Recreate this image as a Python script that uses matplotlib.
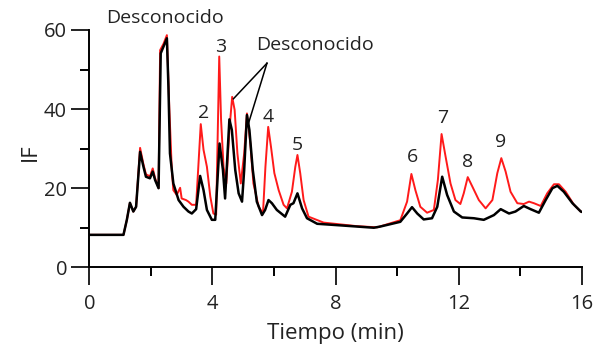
import matplotlib
matplotlib.use("Agg")
import matplotlib.pyplot as plt
from matplotlib.ticker import MultipleLocator

plt.rcParams['font.family'] = ['Open Sans', 'DejaVu Sans']

# Black trace
t_black = [0, 1.11, 1.22, 1.32, 1.43, 1.52, 1.65, 1.76, 1.84, 1.97, 2.06, 2.14, 2.25,
           2.32, 2.41, 2.52, 2.57, 2.62, 2.73, 2.9, 3.06, 3.22, 3.33, 3.47, 3.6, 3.71, 3.82,
           3.98, 4.09, 4.23, 4.34, 4.41, 4.55, 4.63, 4.74, 4.85, 4.96, 5.03, 5.12, 5.2, 5.31,
           5.44, 5.61, 5.71, 5.82, 5.93, 6.09, 6.36, 6.53, 6.63, 6.76, 6.91, 7.07, 7.4, 8.15,
           9.24, 9.45, 10.1, 10.32, 10.48, 10.65, 10.86, 11.13, 11.3, 11.46, 11.62, 11.84,
           12.11, 12.49, 12.81, 13.14, 13.36, 13.63, 13.84, 14.11, 14.33, 14.6, 14.82, 15.04,
           15.2, 15.41, 15.69, 15.96, 16.0]
v_black = [8.2, 8.2, 12, 16.3, 14.1, 15.3, 29.2, 25.4, 22.9, 22.5, 24.2, 22, 20,
           54.1, 55.8, 57.9, 45.7, 28.8, 21.2, 17, 15.3, 14.1, 13.6, 14.7, 23.1, 19.5, 14.5,
           12, 12, 31.3, 24.6, 17.4, 37.4, 34.7, 24.6, 18.7, 16.6, 24.6, 38.5, 34.7, 24.6,
           16.6, 13.2, 14.5, 17, 16.2, 14.5, 12.8, 15.8, 16.2, 18.7, 14.9, 12.4, 11, 10.6,
           10, 10.3, 11.5, 13.6, 15.2, 13.6, 12.1, 12.4, 15.3, 22.9, 18.3, 14.1,
           12.6, 12.4, 12, 13.2, 14.7, 13.6, 14.1, 15.5, 14.7, 13.8, 17, 20,
           20.6, 19.1, 16.2, 14.1, 14.0]

# Red trace
t_red = [0, 1.11, 1.22, 1.32, 1.43, 1.52, 1.65, 1.76, 1.84, 1.97, 2.06, 2.14, 2.25,
         2.3, 2.41, 2.52, 2.6, 2.68, 2.73, 2.84, 2.95, 3.0, 3.14, 3.22, 3.33, 3.47, 3.62,
         3.71, 3.82, 3.93, 4.03, 4.12, 4.22, 4.28, 4.36, 4.45, 4.55, 4.64, 4.72, 4.81, 4.92,
         5.03, 5.12, 5.23, 5.33, 5.5, 5.64, 5.72, 5.81, 5.9, 6.01, 6.15, 6.31, 6.42, 6.58,
         6.69, 6.76, 6.85, 6.96, 7.12, 7.61, 8.69, 9.35, 10.1, 10.32, 10.46, 10.59, 10.75,
         10.97, 11.19, 11.32, 11.44, 11.57, 11.73, 11.89, 12.05, 12.16, 12.29, 12.44, 12.65,
         12.87, 13.09, 13.25, 13.38, 13.52, 13.68, 13.9, 14.11, 14.28, 14.44, 14.66, 14.87,
         15.09, 15.25, 15.47, 15.74, 15.96, 16.0]
v_red = [8.2, 8.2, 12, 16.3, 14.1, 15.3, 30.2, 26, 23.5, 23, 25, 22.5, 20,
         54.9, 56.5, 58.7, 40, 24.6, 19.5, 18.3, 20.1, 17.4, 17, 16.6, 15.8, 15.8, 36.2,
         29.7, 25.4, 17.9, 13.6, 13.3, 53.3, 37.2, 25.4, 21.2, 34.7, 43.1, 39.8, 28.8, 21.2,
         28.8, 38.9, 31.3, 21.2, 15.3, 13.6, 25.4, 35.5, 30.5, 23.8, 19.5, 15.8, 14.9, 19.1,
         25.4, 28.4, 23.8, 17, 12.8, 11.3, 10.4, 10.1, 11.9, 16.6, 23.6, 19.5, 15.3,
         13.8, 14.5, 22.1, 33.7, 28, 21.2, 17, 16, 18.7, 22.8, 20.4, 17,
         14.9, 17, 23.8, 27.6, 24.2, 19.1, 16.2, 16, 16.6, 16.2, 15.5, 18.7,
         21, 21, 19.1, 15.8, 14.1, 14.0]

# Peak labels
peak_labels = ["2", "3", "4", "5", "6", "7", "8", "9"]
peak_t = [3.7, 4.25, 5.8, 6.75, 10.5, 11.47, 12.3, 13.35]
peak_v = [39, 55.7, 38, 31, 27.9, 37.7, 26.6, 31.7]

x_ticks = [0, 4, 8, 12, 16]
y_ticks = [0, 20, 40, 60]

fig = plt.figure(figsize=(5.96, 3.46), dpi=100)
ax = fig.add_axes([0.1498, 0.2275, 0.8267, 0.6858])

ax.plot(t_red, v_red, color='#ff1a1a', lw=1.4, zorder=2)
ax.plot(t_black, v_black, color='black', lw=1.8, zorder=3)

ax.set_xlim(0, 16)
ax.set_ylim(0, 60)
ax.set_xticks(x_ticks)
ax.set_yticks(y_ticks)
ax.xaxis.set_minor_locator(MultipleLocator(2))
ax.yaxis.set_minor_locator(MultipleLocator(10))
ax.tick_params(which='major', length=13, width=1.4, labelsize=14.5, pad=6, colors='#222222')
ax.tick_params(which='minor', length=6.5, width=1.4)
ax.tick_params(axis='y', which='major', pad=3)
for s in ['top', 'right']:
    ax.spines[s].set_visible(False)
for s in ['left', 'bottom']:
    ax.spines[s].set_linewidth(1.4)

for lab, tx, vy in zip(peak_labels, peak_t, peak_v):
    ax.text(tx, vy, lab, ha='center', va='center', fontsize=14, color='#222222')

ax.text(2.46, 63, "Desconocido", ha='center', va='center', fontsize=14, color='#222222', clip_on=False)
ax.text(7.34, 56.2, "Desconocido", ha='center', va='center', fontsize=14, color='#222222')
ax.plot([5.77, 4.68], [51.6, 42.6], color='black', lw=1.1)
ax.plot([5.77, 5.17], [51.6, 36.4], color='black', lw=1.1)

fig.text(30/596, 1 - 152/346, "IF", rotation=90, ha='center', va='center', fontsize=16, color='#222222')
fig.text(335/596, 1 - 334/346, "Tiempo (min)", ha='center', va='center', fontsize=16, color='#222222')

fig.savefig("out.png", dpi=100)
